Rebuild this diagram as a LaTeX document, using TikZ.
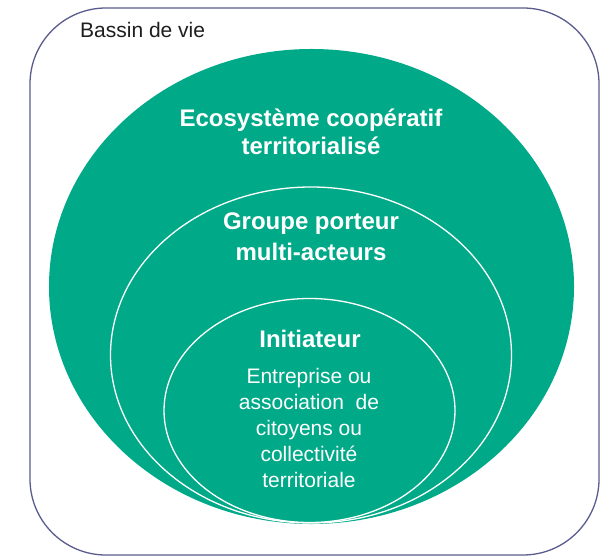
\documentclass[tikz,border=0pt]{standalone}
\usepackage{fontspec}
\setmainfont{Liberation Sans}
\definecolor{ecogreen}{HTML}{00A988}
\definecolor{boxline}{HTML}{5A5C8E}
\definecolor{labelgray}{HTML}{1E1E1E}
\tikzset{
  bigtext/.style={anchor=base, inner sep=0pt, text=white, font=\fontsize{24bp}{28bp}\selectfont\bfseries},
  smalltext/.style={anchor=base, inner sep=0pt, text=white, font=\fontsize{21bp}{26bp}\selectfont},
  ring/.style={draw=white, line width=1.3bp},
}
\begin{document}
\begin{tikzpicture}[x=1bp, y=-1bp]
\useasboundingbox (0,0) rectangle (611,556);
% outer box
\draw[boxline, line width=1.3bp, rounded corners=76bp] (30,8) rectangle (599,555);
\node[anchor=base west, inner sep=0pt, text=labelgray, font=\fontsize{21bp}{26bp}\selectfont] (bassin) at (80,38) {Bassin de vie};
% ellipses
\fill[ecogreen] (311.5,286.5) ellipse [x radius=262.5bp, y radius=237.5bp];
\draw[ring] (311,355) ellipse [x radius=200.5bp, y radius=168bp];
\draw[ring] (309.5,410.5) ellipse [x radius=145.5bp, y radius=112bp];
% texts
\node[bigtext] (eco1) at (311,127) {Ecosystème coopératif};
\node[bigtext] (eco2) at (311,155) {territorialisé};
\node[bigtext] (grp1) at (311,230) {Groupe porteur};
\node[bigtext] (grp2) at (311,260) {multi-acteurs};
\node[bigtext] (init) at (310,347) {Initiateur};
\node[smalltext] (l1) at (309,383) {Entreprise ou};
\node[smalltext] (l2) at (309,409) {association\ \ de};
\node[smalltext] (l3) at (309,435) {citoyens ou};
\node[smalltext] (l4) at (309,461) {collectivité};
\node[smalltext] (l5) at (309,487) {territoriale};
\end{tikzpicture}
\end{document}
